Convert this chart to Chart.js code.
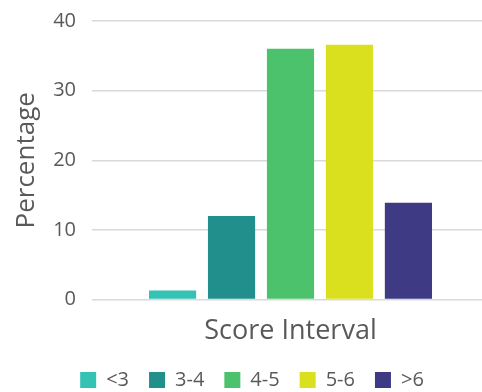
<!DOCTYPE html>
<html>
<head>
<meta charset="utf-8">
<script src="https://cdn.jsdelivr.net/npm/chart.js@4/dist/chart.umd.min.js"></script>
<style>
  html, body { margin: 0; padding: 0; background: #ffffff; }
  #wrap { width: 482px; height: 392px; }
</style>
</head>
<body>
<div id="wrap"><canvas id="chart" width="482" height="392"></canvas></div>
<script>
// Share of respondents (%) in each score interval
const intervals = ['<3', '3-4', '4-5', '5-6', '>6'];
const percentages = [1.3, 12.0, 36.0, 36.6, 13.9];
const colors = ['#34c2b5', '#21908d', '#4cc26d', '#dbe01e', '#3e3a83'];
const yTicks = [0, 10, 20, 30, 40];

const textColor = '#595959';
const fontFamily = '"Open Sans", "Liberation Sans", sans-serif';

const datasets = intervals.map((name, i) => ({
  label: name,
  data: [percentages[i]],
  backgroundColor: colors[i],
  borderWidth: 0,
  categoryPercentage: 0.7426,
  barPercentage: 0.8
}));

// Let the category band run slightly past the right edge and nudge the
// legend row right, so the bar group and legend sit off-centre to the right.
const layoutTweaks = {
  id: 'layoutTweaks',
  afterLayout(chart) {
    const x = chart.scales.x;
    x.right += 7;
    x.width += 7;
    x.configure();
    const lg = chart.legend;
    if (lg) { lg.left += 11; lg.right += 11; }
  }
};

new Chart(document.getElementById('chart'), {
  type: 'bar',
  data: { labels: [''], datasets },
  plugins: [layoutTweaks],
  options: {
    responsive: false,
    animation: false,
    layout: { padding: { top: 21, right: 0, left: 0, bottom: -8 } },
    plugins: {
      tooltip: { enabled: false },
      legend: {
        position: 'bottom',
        labels: {
          boxWidth: 16, boxHeight: 16, padding: 20, color: textColor,
          font: { family: fontFamily, size: 20 }
        }
      }
    },
    scales: {
      x: {
        grid: { display: false },
        border: { display: false },
        ticks: { display: false },
        title: {
          display: true, text: 'Score Interval', color: textColor,
          font: { family: fontFamily, size: 27 },
          padding: { top: 8, bottom: 2 }
        }
      },
      y: {
        min: 0, max: 40,
        afterBuildTicks: axis => { axis.ticks = yTicks.map(v => ({ value: v })); },
        afterFit: axis => { axis.paddingTop = 0; axis.paddingBottom = 0; axis.width = 92; },
        grid: { color: '#d9d9d9', lineWidth: 1.5, drawTicks: false },
        border: { display: false },
        ticks: { color: textColor, padding: 16, font: { family: fontFamily, size: 20 } },
        title: {
          display: true, text: 'Percentage', color: textColor,
          font: { family: fontFamily, size: 26 },
          padding: { top: 11, bottom: 0 }
        }
      }
    }
  }
});
</script>
</body>
</html>
